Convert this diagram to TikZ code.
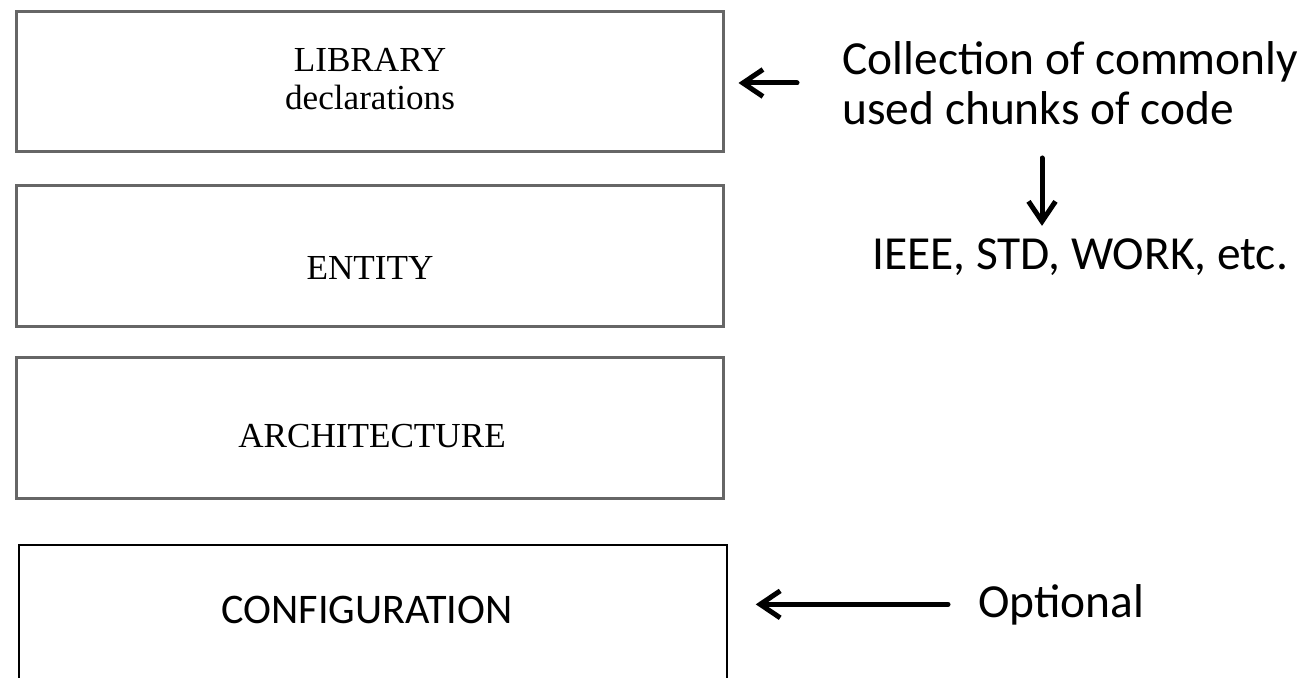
\documentclass[tikz,border=0pt]{standalone}
\usepackage{fontspec}
\setmainfont{Liberation Serif}
\newfontfamily\calibri{Carlito}
\usetikzlibrary{arrows.meta,calc}
\tikzset{
  blk/.style={draw=black!60,line width=.6mm,minimum width=141.2mm,minimum height=28mm,inner sep=0pt},
  cfg/.style={draw=black,line width=.3mm,minimum width=141.6mm,minimum height=30mm,inner sep=0pt},
  ttl/.style={font=\fontsize{20}{21.6}\selectfont,inner sep=0pt},
  note/.style={font=\calibri\fontsize{27}{28.45}\selectfont,inner sep=0pt},
  ar/.style={-{Straight Barb[length=4mm,width=5.4mm]},line width=1mm,line cap=round},
}
\begin{document}
\begin{tikzpicture}[x=.2mm,y=-.2mm]
  \clip (0,0) rectangle (1303,678);
  % stacked code sections
  \node[blk] (lib) at (370,82) {};
  \node[blk] (ent) at (370,256) {};
  \node[blk] (arch) at (370,428) {};
  \node[cfg] (conf) at (373,620) {};
  \node[ttl,align=center] (libt) at (370,79) {LIBRARY\\declarations};
  \node[ttl,anchor=base] (entt) at (370,280) {ENTITY};
  \node[ttl,anchor=base] (archt) at (372,447) {ARCHITECTURE};
  \node[note,font=\calibri\fontsize{24}{28}\selectfont,anchor=base] (conft) at (367,623) {CONFIGURATION};
  % side notes
  \node[note,align=left,anchor=west] (coll) at (842,83) {Collection of commonly\\used chunks of code};
  \node[note,anchor=base] (ieee) at (1080,270) {IEEE, STD, WORK, etc.};
  \node[note,anchor=base west] (opt) at (978,617) {Optional};
  % arrows
  \draw[ar,shorten <=9mm,shorten >=2.8mm] (coll.west) -- (coll.west -| lib.east);
  \draw[ar] ($(coll.south west)+(200,33)$) -- ($(coll.south west |- ieee.north)+(200,-13)$);
  \draw[ar,shorten <=6mm,shorten >=5.6mm] (opt.west) -- (opt.west -| conf.east);
\end{tikzpicture}
\end{document}
